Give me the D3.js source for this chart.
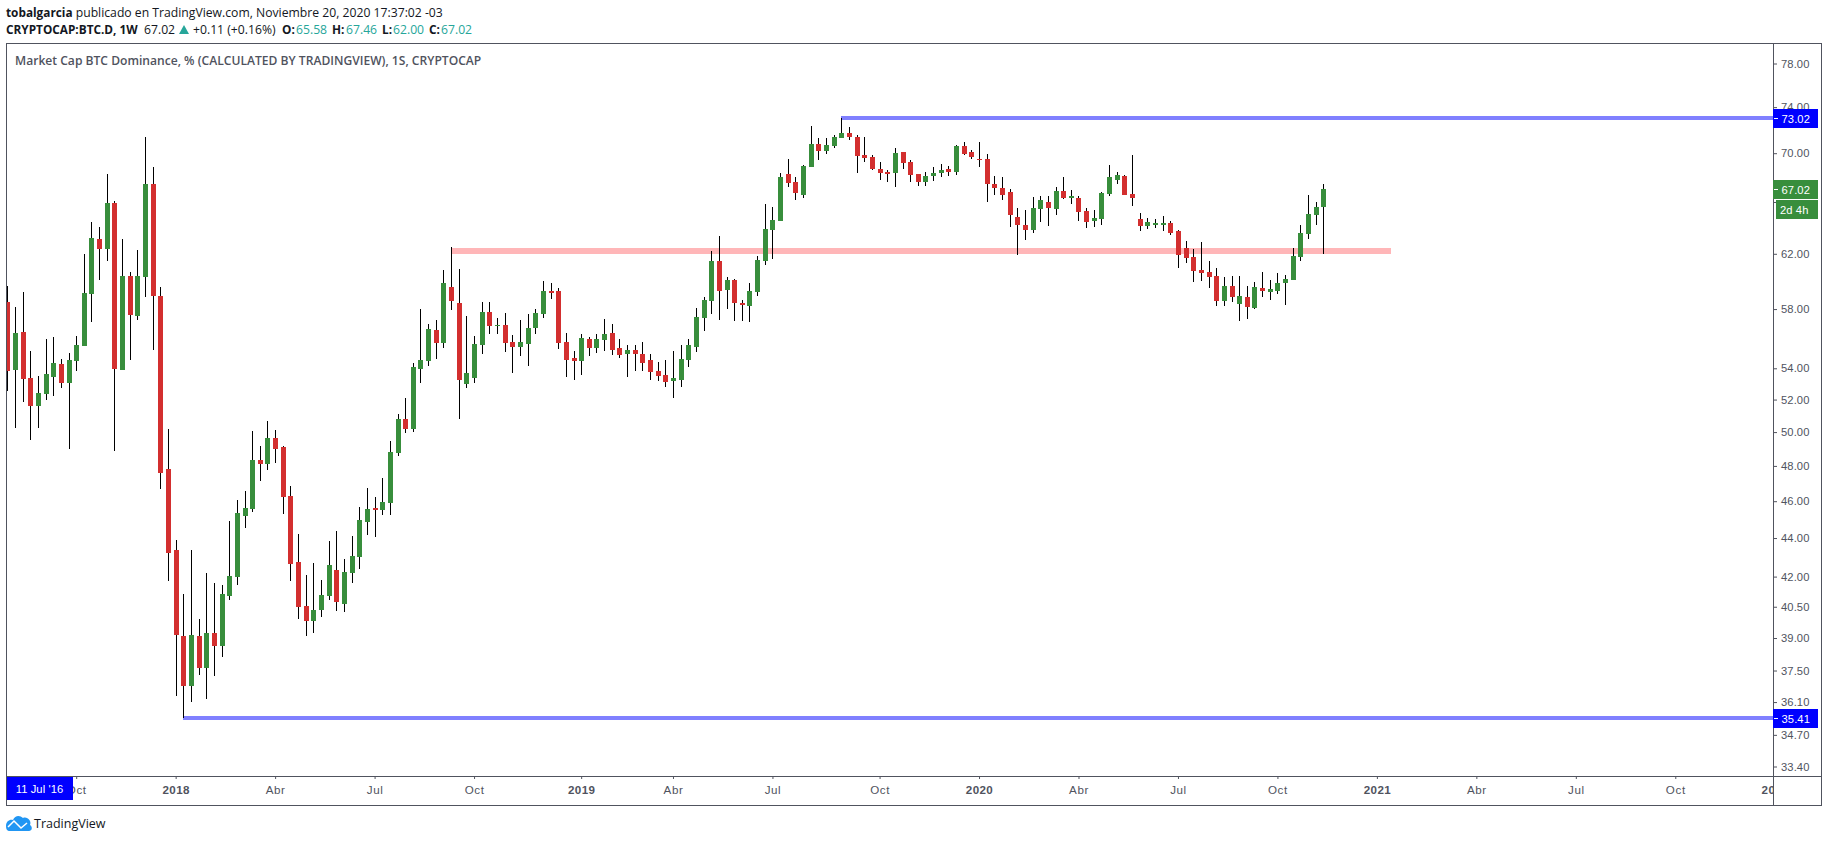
<html lang="es">
<head>
  <meta charset="UTF-8" />
  <title>Market Cap BTC Dominance</title>
  <style>
    html, body { margin: 0; background: #fff; overflow: hidden; }
    svg { display: block; }
    text { font-family: "Open Sans", sans-serif; }
    .axis text { font-family: "Liberation Sans", sans-serif; font-size: 11.2px; fill: #50535e; letter-spacing: 0.1px; }
    .axis line { stroke: #50535e; }
    .time text { font-size: 11.6px; letter-spacing: 0.6px; }
    .time .year text { font-weight: bold; letter-spacing: 0.4px; }
    .head { font-size: 12.2px; fill: #131722; }
    .up { fill: #26a69a; }
    .frame { stroke: #50535e; fill: none; shape-rendering: crispEdges; }
    .tag { font-family: "Liberation Sans", sans-serif; font-size: 11.2px; fill: #fff; letter-spacing: 0.1px; }
  </style>
</head>
<body>
  <svg width="1828" height="842"></svg>

  <script src="https://d3js.org/d3.v7.min.js"></script>
  <script>
    const firstWeek = new Date(Date.UTC(2017, 6, 31));
    const lastWeek = new Date(Date.UTC(2020, 10, 16));
    const weeks = d3.utcMonday.range(firstWeek, d3.utcDay.offset(lastWeek, 1));

    const opens = [
      58.50,53.89,56.42,53.38,51.60,52.36,53.44,54.29,53.06,54.48,
      55.48,59.07,63.12,62.36,65.92,53.89,60.36,57.52,60.29,67.45,
      58.92,47.83,43.37,39.10,36.81,39.10,37.62,39.24,38.63,41.03,
      41.98,45.19,45.57,48.35,48.12,49.65,49.12,46.29,42.75,40.54,
      39.81,40.34,41.03,42.34,40.63,42.19,43.01,44.86,45.63,45.52,
      45.90,48.77,50.80,50.19,53.95,54.48,56.56,55.68,59.57,58.43,
      53.00,53.38,55.54,57.80,56.83,56.90,55.74,55.41,55.61,56.70,
      57.66,59.28,59.28,55.74,54.68,54.48,55.95,55.34,55.88,56.36,
      55.34,54.94,55.21,54.94,54.55,53.83,53.57,53.19,53.25,54.55,
      55.41,57.38,58.57,61.47,59.35,60.07,58.43,58.22,59.21,61.47,
      63.81,64.50,68.27,67.61,66.56,68.85,70.78,70.19,70.61,71.29,
      71.73,71.38,69.85,69.68,68.68,68.43,68.35,70.10,69.26,68.27,
      67.61,68.10,68.35,68.68,68.43,70.61,70.10,69.51,69.51,67.45,
      67.12,66.80,64.81,64.20,63.81,65.45,66.00,65.45,66.88,66.32,
      66.32,65.29,64.50,64.66,66.64,67.77,68.10,66.64,64.66,64.12,
      64.20,64.20,64.35,63.73,62.44,61.76,60.80,60.65,60.36,58.57,
      59.64,58.36,58.85,58.08,59.49,59.21,59.28,59.85,60.07,61.76,
      63.50,64.97,65.58
    ];
    const highs = [
      59.64,58.15,59.21,55.14,53.51,55.95,56.08,54.62,55.01,56.15,
      61.99,64.43,64.04,68.27,66.08,63.12,60.65,62.29,71.38,68.85,
      59.57,50.19,43.90,41.13,43.37,39.91,42.19,41.68,41.58,44.92,
      46.07,46.57,50.07,49.17,50.68,50.13,49.17,46.86,44.22,42.08,
      42.70,41.83,43.85,44.38,42.90,44.11,45.68,46.74,46.24,47.31,
      49.47,51.11,52.11,54.35,58.01,56.97,57.24,60.80,62.51,60.87,
      57.52,56.15,58.50,58.50,57.38,57.73,56.22,57.24,57.66,58.01,
      60.00,59.85,59.49,56.36,55.14,56.29,56.08,56.29,57.31,56.97,
      55.95,55.54,55.54,55.74,54.94,54.42,54.55,55.14,55.54,55.95,
      58.08,58.85,62.21,63.35,60.29,60.14,58.64,59.85,61.84,65.84,
      65.60,68.35,69.51,68.02,69.01,72.34,71.29,71.29,71.55,73.02,
      72.25,71.55,71.38,69.85,69.26,68.60,70.44,70.10,69.43,68.27,
      68.43,68.85,69.10,68.93,70.69,70.95,70.27,70.95,69.94,68.10,
      68.02,67.04,65.53,65.37,66.40,66.48,66.48,67.20,68.02,66.96,
      66.48,65.53,65.37,66.80,69.01,68.43,68.18,69.85,65.13,64.74,
      64.66,64.89,64.50,63.81,62.96,62.36,62.89,61.47,60.95,60.29,
      60.36,60.36,59.64,59.92,60.65,60.07,60.58,60.43,62.44,64.20,
      66.56,66.00,67.46
    ];
    const lows = [
      52.55,50.25,51.85,49.53,50.25,51.98,52.23,52.74,49.00,53.83,
      55.48,57.10,60.07,61.47,48.88,53.89,54.55,57.24,58.85,55.21,
      46.69,41.78,36.37,35.41,36.10,37.30,36.23,37.26,38.12,40.83,
      41.58,44.54,45.41,47.14,47.77,48.18,45.30,41.78,39.91,39.10,
      39.24,40.00,40.83,40.29,40.24,41.68,42.39,44.17,44.06,45.24,
      45.24,48.59,49.95,50.01,53.06,54.16,54.62,55.34,57.94,50.80,
      52.74,53.06,54.94,56.29,56.29,55.08,53.70,54.81,54.16,56.29,
      57.38,58.71,55.28,53.44,53.25,53.57,54.81,55.01,55.14,54.88,
      54.68,53.44,53.83,53.83,53.25,53.19,52.80,52.11,52.80,54.09,
      55.08,56.49,57.66,57.24,58.01,57.17,57.17,57.10,58.92,61.17,
      61.62,64.50,67.20,66.16,66.32,68.85,69.43,69.94,70.44,71.29,
      71.12,68.35,69.26,68.60,67.77,67.61,67.20,68.68,67.61,67.28,
      67.28,67.69,68.02,68.10,68.18,69.85,69.51,68.85,66.00,66.56,
      66.16,64.04,61.91,63.04,63.58,64.43,64.12,64.97,66.24,65.84,
      64.50,63.96,64.04,64.20,66.48,67.45,66.56,65.68,63.73,63.89,
      63.96,63.73,63.42,60.95,61.32,59.92,60.00,59.49,58.22,58.22,
      58.50,57.17,57.31,58.01,58.85,58.64,59.07,58.29,60.07,61.47,
      63.12,64.20,62.00
    ];
    const closes = [
      53.83,56.36,53.31,51.60,52.42,53.63,54.35,53.06,54.55,55.54,
      59.14,63.19,62.36,65.92,53.95,60.36,57.59,60.36,67.45,58.92,
      47.60,43.21,39.15,36.81,39.15,37.62,39.24,38.63,41.13,42.03,
      45.35,45.63,48.35,48.12,49.65,49.00,46.24,42.65,40.49,39.81,
      40.34,41.08,42.60,40.73,42.24,43.06,44.97,45.57,45.52,45.96,
      48.82,50.80,50.19,54.09,54.55,56.63,55.68,59.85,58.57,53.25,
      53.70,55.61,57.80,56.83,56.90,55.68,55.41,55.74,56.70,57.73,
      59.28,59.14,55.68,54.55,54.48,56.02,55.34,55.95,56.29,55.21,
      54.88,55.21,54.94,54.35,53.76,53.51,53.12,53.38,54.62,55.54,
      57.45,58.64,61.47,59.28,60.07,58.43,58.29,59.28,61.54,63.89,
      64.58,68.02,67.53,66.72,68.93,70.78,70.19,70.69,71.38,71.73,
      71.38,69.77,69.60,68.68,68.35,68.27,70.02,69.18,68.18,67.61,
      68.10,68.35,68.60,68.43,70.61,69.94,69.68,69.43,67.45,67.12,
      66.56,64.97,64.20,63.81,65.53,66.16,65.53,66.88,66.32,66.48,
      65.21,64.43,64.74,66.72,68.02,68.18,66.56,66.32,64.12,64.43,
      64.35,64.35,63.58,61.91,61.69,60.73,60.58,60.29,58.57,59.64,
      58.85,58.92,58.15,59.57,59.28,59.42,59.85,60.14,61.84,63.58,
      65.05,65.60,67.02
    ];

    const priceTicks = [78, 74, 70, 66, 62, 58, 54, 52, 50, 48, 46, 44, 42, 40.5, 39, 37.5, 36.1, 34.7, 33.4];
    // the 66.00 label sits behind the countdown tag, only its tick shows
    const hiddenPriceLabels = [66];

    // first bar of each labelled month on the time axis
    const timeTickDates = [
      "2017-10-02", "2018-01-01", "2018-04-02", "2018-07-02", "2018-10-01", "2019-01-07",
      "2019-04-01", "2019-07-01", "2019-10-07", "2020-01-06", "2020-04-06", "2020-07-06",
      "2020-10-05", "2021-01-04", "2021-04-05", "2021-07-05", "2021-10-04", "2022-01-03"
    ].map(d => new Date(d + "T00:00:00Z"));
    const timeTickLabels = ["Oct", "2018", "Abr", "Jul", "Oct", "2019", "Abr", "Jul", "Oct", "2020", "Abr", "Jul", "Oct", "2021", "Abr", "Jul", "Oct", "2022"];

    const highLevel = 73.02, lowLevel = 35.41, midLevel = 62.21, lastClose = 67.02;
    const highLevelStart = weeks[109], lowLevelStart = weeks[23], midLevelStart = weeks[58];
    const midLevelEnd = new Date(Date.UTC(2021, 0, 17));

    const svg = d3.select("svg");
    const plotLeft = 6.5, plotTop = 43.5, plotRight = 1773.5, plotBottom = 776.5, outerRight = 1821.5, outerBottom = 805.5;

    const x = d3.scaleUtc().domain([firstWeek, lastWeek]).range([7.33, 1323.33]);
    const y = d3.scaleLog().domain([33.4, 78]).range([766.5, 63.5]);

    const px = d => Math.round(x(d));

    const defs = svg.append("defs");
    defs.append("clipPath").attr("id", "plot").append("rect")
      .attr("x", plotLeft + 0.5).attr("y", plotTop).attr("width", plotRight - plotLeft - 0.5).attr("height", plotBottom - plotTop);
    defs.append("clipPath").attr("id", "timeband").append("rect")
      .attr("x", plotLeft).attr("y", 0).attr("width", plotRight - plotLeft).attr("height", outerBottom);

    const plot = svg.append("g").attr("clip-path", "url(#plot)");

    // levels go under the candles
    plot.append("line").attr("x1", x(midLevelStart)).attr("x2", x(midLevelEnd))
      .attr("y1", y(midLevel)).attr("y2", y(midLevel))
      .attr("stroke", "#ffb6b8").attr("stroke-width", 6).attr("shape-rendering", "crispEdges");

    [[highLevel, highLevelStart], [lowLevel, lowLevelStart]].forEach(([v, d]) => {
      plot.append("line").attr("x1", px(d)).attr("x2", plotRight)
        .attr("y1", Math.round(y(v))).attr("y2", Math.round(y(v)))
        .attr("stroke", "#8080ff").attr("stroke-width", 4).attr("shape-rendering", "crispEdges");
    });

    const candle = plot.append("g").attr("shape-rendering", "crispEdges")
      .selectAll("g")
      .data(weeks)
      .join("g");

    candle.append("line")
      .attr("x1", d => px(d) + 0.5).attr("x2", d => px(d) + 0.5)
      .attr("y1", (d, i) => Math.round(y(highs[i])))
      .attr("y2", (d, i) => Math.round(y(lows[i])))
      .attr("stroke", "#000");

    candle.append("rect")
      .attr("x", d => px(d) - 2)
      .attr("width", 5)
      .attr("y", (d, i) => Math.round(y(Math.max(opens[i], closes[i]))))
      .attr("height", (d, i) => Math.max(1, Math.round(y(Math.min(opens[i], closes[i]))) - Math.round(y(Math.max(opens[i], closes[i])))))
      .attr("fill", (d, i) => closes[i] >= opens[i] ? "#388e3c" : "#d32f2f");

    // axes
    const priceAxis = d3.axisRight(y).tickValues(priceTicks)
      .tickFormat(d => hiddenPriceLabels.includes(d) ? "" : d3.format(".2f")(d)).tickSize(4).tickPadding(4);
    const yAxisG = svg.append("g").attr("class", "axis").attr("transform", `translate(${plotRight - 0.5},0)`).call(priceAxis);
    yAxisG.select(".domain").remove();

    const timeAxis = d3.axisBottom(x).tickValues(timeTickDates)
      .tickFormat((d, i) => timeTickLabels[i]).tickSize(3).tickPadding(7);
    const xAxisG = svg.append("g").attr("class", "axis time").attr("clip-path", "url(#timeband)")
      .attr("transform", `translate(0,${plotBottom - 0.5})`).call(timeAxis);
    xAxisG.select(".domain").remove();
    xAxisG.selectAll(".tick").classed("year", (d, i) => /^\d+$/.test(timeTickLabels[i]));

    svg.append("rect").attr("class", "frame")
      .attr("x", plotLeft).attr("y", plotTop).attr("width", outerRight - plotLeft).attr("height", outerBottom - plotTop);
    svg.append("line").attr("class", "frame").attr("x1", plotRight).attr("x2", plotRight).attr("y1", plotTop).attr("y2", outerBottom);
    svg.append("line").attr("class", "frame").attr("x1", plotLeft).attr("x2", outerRight).attr("y1", plotBottom).attr("y2", plotBottom);

    // price tags over the axis
    function priceTag(v, color, h0) {
      const cy = Math.round(y(v));
      svg.append("rect").attr("x", 1773).attr("y", h0).attr("width", 45).attr("height", 19).attr("fill", color);
      svg.append("line").attr("x1", 1774).attr("x2", 1778).attr("y1", cy + 0.5).attr("y2", cy + 0.5).attr("stroke", "#fff").attr("shape-rendering", "crispEdges");
      svg.append("text").attr("class", "tag").attr("x", 1781.5).attr("y", h0 + 14).text(d3.format(".2f")(v));
    }
    priceTag(highLevel, "#0000ff", 109);
    priceTag(lastClose, "#388e3c", 180);
    priceTag(lowLevel, "#0000ff", 709);

    svg.append("rect").attr("x", 1776).attr("y", 200).attr("width", 42).attr("height", 19).attr("fill", "#388e3c");
    svg.append("text").attr("class", "tag").attr("x", 1780).attr("y", 214).text("2d 4h");

    svg.append("rect").attr("x", 7).attr("y", 777).attr("width", 66).attr("height", 23).attr("fill", "#0000ff");
    svg.append("text").attr("class", "tag").attr("x", 39.5).attr("y", 793).attr("text-anchor", "middle").text("11 Jul '16");

    // header
    const line1 = svg.append("text").attr("class", "head").attr("x", 6).attr("y", 17);
    line1.append("tspan").attr("font-weight", 700).attr("font-size", 11.8).text("tobalgarcia");
    line1.append("tspan").text(" publicado en TradingView.com, Noviembre 20, 2020 17:37:02 -03");

    const headParts = [
      ["CRYPTOCAP:BTC.D, 1W", 6, "b"], ["67.02", 144, ""], ["+0.11 (+0.16%)", 193, ""],
      ["O:", 282, "b"], ["65.58", 296, "u"], ["H:", 332, "b"], ["67.46", 346, "u"],
      ["L:", 382, "b"], ["62.00", 393, "u"], ["C:", 429, "b"], ["67.02", 441, "u"]
    ];
    svg.append("g").selectAll("text").data(headParts).join("text")
      .attr("class", d => "head" + (d[2] === "u" ? " up" : ""))
      .attr("x", d => d[1]).attr("y", 34)
      .attr("font-weight", d => d[2] === "b" ? 700 : 400)
      .style("font-size", d => d[2] === "b" ? "11.8px" : null)
      .text(d => d[0]);
    svg.append("path").attr("d", "M179 34L184 25L189 34Z").attr("fill", "#26a69a");

    svg.append("text").attr("x", 15).attr("y", 65)
      .attr("font-size", 12.1).attr("font-weight", 600).attr("fill", "#50535e")
      .text("Market Cap BTC Dominance, % (CALCULATED BY TRADINGVIEW), 1S, CRYPTOCAP");

    // logo
    svg.append("path")
      .attr("d", "M6 826C6 821 10 819 13 820C15 815 20 815 23 818C27 816 32 821 30 825C33 827 32 831 29 831L10 831C7 831 6 829 6 826Z")
      .attr("fill", "#2196f3");
    svg.append("path").attr("d", "M8 827L14 821L21 828L27 823").attr("fill", "none").attr("stroke", "#fff").attr("stroke-width", 1.5);
    svg.append("text").attr("x", 34).attr("y", 828).attr("font-size", 12.5).attr("fill", "#131722").text("TradingView");
  </script>
</body>
</html>
